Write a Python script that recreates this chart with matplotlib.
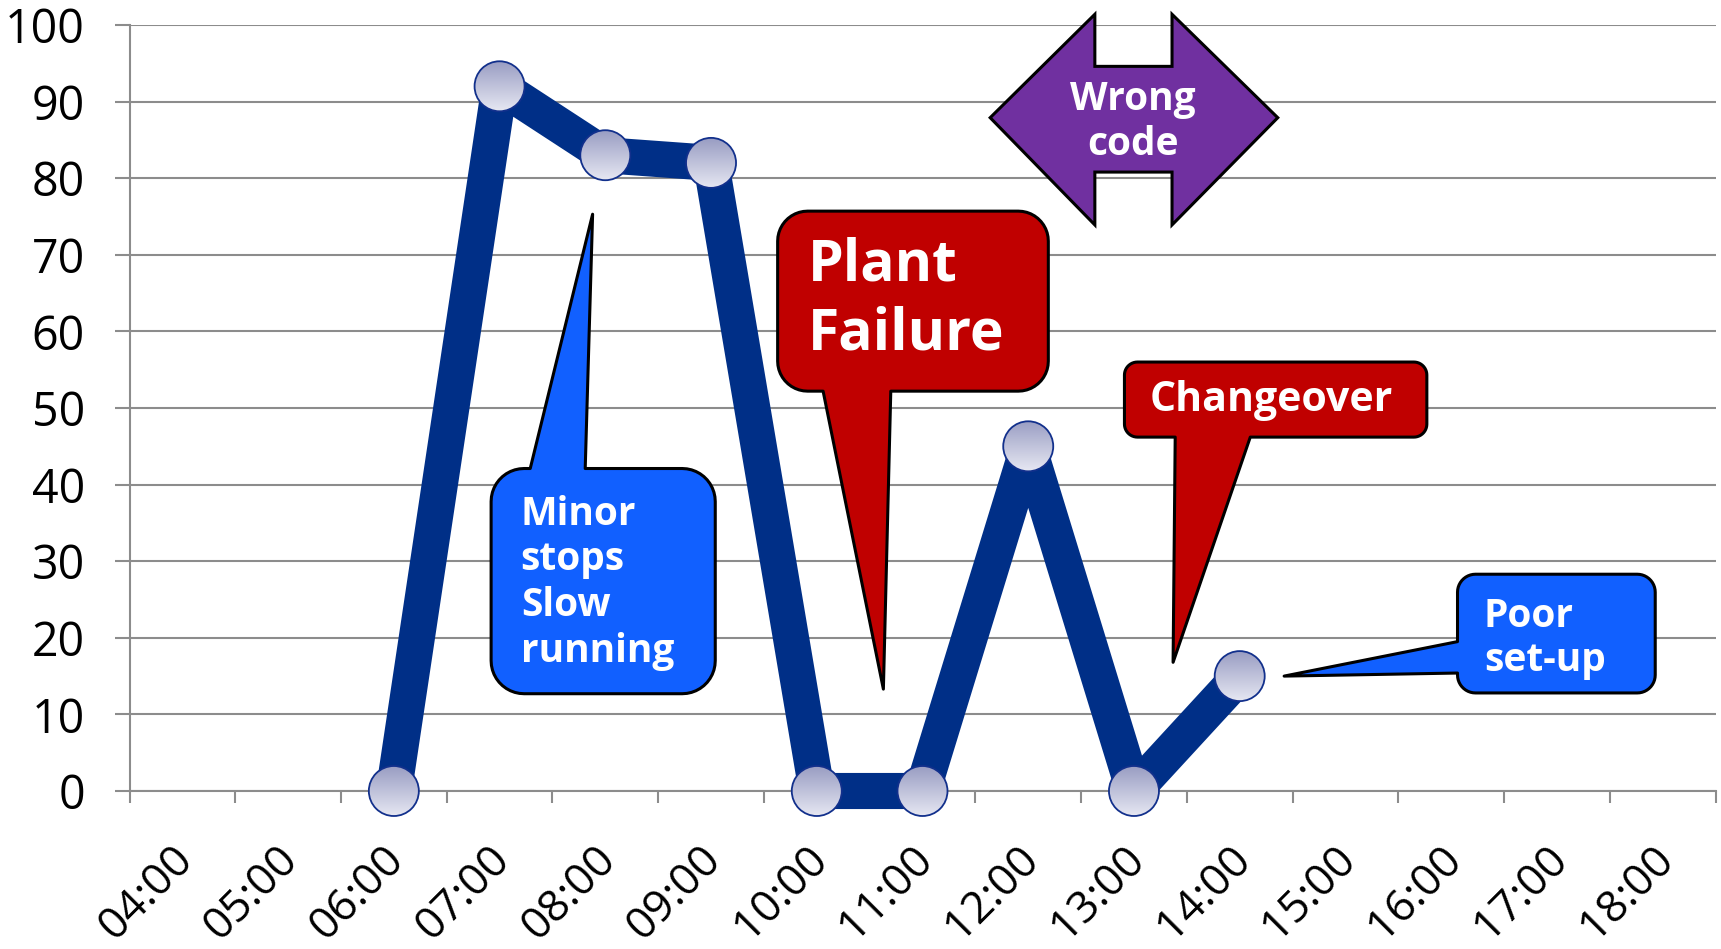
import numpy as np
import matplotlib
matplotlib.use("Agg")
import matplotlib.pyplot as plt
from matplotlib.patches import Ellipse, Polygon
from matplotlib.colors import LinearSegmentedColormap
from matplotlib.transforms import ScaledTranslation

# data
hours = ['04:00', '05:00', '06:00', '07:00', '08:00', '09:00', '10:00', '11:00',
         '12:00', '13:00', '14:00', '15:00', '16:00', '17:00', '18:00']
output = [np.nan, np.nan, 0, 92, 83, 82, 0, 0, 45, 0, 15,
          np.nan, np.nan, np.nan, np.nan]
yticks = list(range(0, 101, 10))

plt.rcParams['font.family'] = ['Open Sans', 'DejaVu Sans']

W, H = 1721, 949
fig = plt.figure(figsize=(W / 100, H / 100), dpi=100)
ax = fig.add_axes([129.5 / W, 158 / H, 1586 / W, 766 / H])

GRID = '#8c8c8c'
LINE = '#002f87'
x = np.arange(len(hours))
xlim = (-0.5, len(hours) - 0.5)
ylim = (0, 100)

ax.plot(x, output, color=LINE, lw=26, solid_joinstyle='round',
        solid_capstyle='butt', zorder=3, clip_on=False)

ax.set_xlim(xlim)
ax.set_ylim(ylim)
ax.set_yticks(yticks)
ax.set_yticklabels([str(v) for v in yticks], fontsize=33.5)
ax.set_xticks(x)
ax.set_xticklabels(hours, fontsize=32, rotation=45, ha='right', va='baseline',
                   rotation_mode='anchor')
ax.set_xticks(np.arange(-0.5, len(hours), 1), minor=True)
ax.tick_params(axis='x', which='major', length=0, pad=50.5)
ax.tick_params(axis='x', which='minor', length=8.5, width=1.5, color=GRID)
ax.tick_params(axis='y', length=11, width=1.5, color=GRID, pad=21)
# nudge the rotated hour labels to the right (after tick_params resets them)
shift = ScaledTranslation(12 / 100, 0, fig.dpi_scale_trans)
for lab in ax.get_xticklabels():
    lab.set_transform(lab.get_transform() + shift)
ax.grid(axis='y', color=GRID, lw=1.5)
ax.set_axisbelow(True)
for s in ['top', 'right']:
    ax.spines[s].set_visible(False)
for s in ['left', 'bottom']:
    ax.spines[s].set_color(GRID)
    ax.spines[s].set_linewidth(1.5)

# gradient markers
ax_w = ax.get_position().width * W
ax_h = ax.get_position().height * H
dx = (xlim[1] - xlim[0]) / ax_w
dy = (ylim[1] - ylim[0]) / ax_h
r = 25
cmap = LinearSegmentedColormap.from_list('mk', ['#999dc3', '#e6e7f2'])
grad = np.linspace(0, 1, 100).reshape(-1, 1)
for xi, yi in zip(x, output):
    if np.isnan(yi):
        continue
    rx, ry = r * dx, r * dy
    clip = Ellipse((xi, yi), 2 * rx, 2 * ry, transform=ax.transData)
    im = ax.imshow(grad, cmap=cmap, extent=[xi - rx, xi + rx, yi - ry, yi + ry],
                   origin='upper', aspect='auto', zorder=4, interpolation='bilinear')
    im.set_clip_path(clip)
    im.set_clip_box(fig.bbox)
    ax.add_patch(Ellipse((xi, yi), 2 * rx, 2 * ry, fill=False, ec='#12308c',
                         lw=1.3, zorder=5, clip_on=False))
ax.set_xlim(xlim)
ax.set_ylim(ylim)


def to_px(px, py):
    return ax.transData.transform((px, py))


def arc(cx, cy, rad, a0, a1):
    t = np.radians(np.linspace(a0, a1, 12))
    return list(zip(cx + rad * np.cos(t), cy + rad * np.sin(t)))


def bubble(x0, y0, x1, y1, rad, side, base, tip, color):
    # box corners and tail given in data units, rounded corners in pixels
    X0, Y0 = to_px(x0, y0)
    X1, Y1 = to_px(x1, y1)
    T = to_px(*tip)
    pts = []
    pts += [(X0 + rad, Y0)]
    if side == 'bottom':
        a, b = sorted(to_px(v, y0)[0] for v in base)
        pts += [(a, Y0), tuple(T), (b, Y0)]
    pts += arc(X1 - rad, Y0 + rad, rad, -90, 0)
    pts += arc(X1 - rad, Y1 - rad, rad, 0, 90)
    if side == 'top':
        a, b = sorted(to_px(v, y1)[0] for v in base)
        pts += [(b, Y1), tuple(T), (a, Y1)]
    pts += arc(X0 + rad, Y1 - rad, rad, 90, 180)
    if side == 'left':
        hi, lo = sorted((to_px(x0, v)[1] for v in base), reverse=True)
        pts += [(X0, hi), tuple(T), (X0, lo)]
    pts += arc(X0 + rad, Y0 + rad, rad, 180, 270)
    pts = np.array(pts) / [W, H]
    fig.add_artist(Polygon(pts, closed=True, fc=color, ec='black', lw=2.2,
                           joinstyle='round', transform=fig.transFigure, zorder=5))


def label(tx, ty, s, size, ha='left', ls=1.2):
    fig.text(tx, ty, s, transform=ax.transData, color='white', fontsize=size,
             fontweight='bold', va='center', ha=ha, linespacing=ls, zorder=6)


BLUE = '#1160ff'
RED = '#c00000'
PURPLE = '#7030a0'

bubble(2.92, 12.7, 5.04, 42.1, 33, 'top', (3.29, 3.81), (3.88, 75.3), BLUE)
label(3.20, 27.2, 'Minor\nstops\nSlow\nrunning', 28, ls=1.22)

bubble(5.63, 52.2, 8.19, 75.7, 30, 'bottom', (6.06, 6.70), (6.63, 13.3), RED)
label(5.92, 64.1, 'Plant\nFailure', 41, ls=1.24)

bubble(8.91, 46.2, 11.77, 56.0, 13, 'bottom', (9.39, 10.10), (9.37, 16.8), RED)
label(9.15, 51.0, 'Changeover', 29.5)

bubble(12.06, 12.8, 13.93, 28.3, 18, 'left', (19.5, 15.4), (10.42, 15.0), BLUE)
label(12.31, 19.9, 'Poor\nset-up', 28, ls=1.18)

# double arrow
arrow = [(7.64, 87.9), (8.63, 101.4), (8.63, 94.6), (9.36, 94.6), (9.36, 101.4),
         (10.36, 87.9), (9.36, 73.9), (9.36, 80.8), (8.63, 80.8), (8.63, 73.9)]
fig.add_artist(Polygon(ax.transData.transform(arrow) / [W, H], closed=True,
                       fc=PURPLE, ec='black', lw=2.2, joinstyle='miter',
                       transform=fig.transFigure, zorder=5))
label(8.99, 87.3, 'Wrong\ncode', 28, ha='center', ls=1.2)

fig.savefig('out.png', dpi=100)
